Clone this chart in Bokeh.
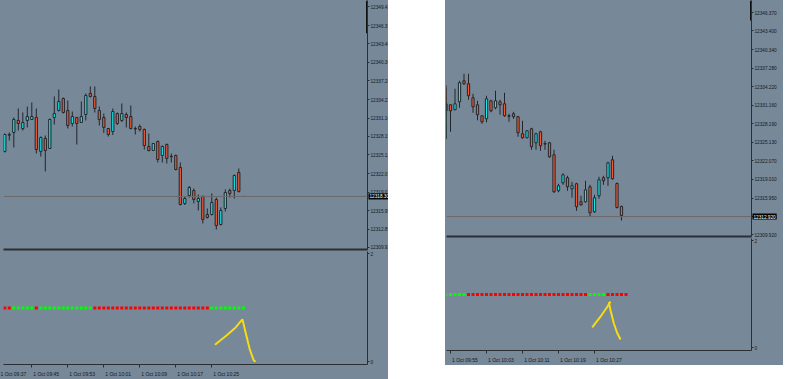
from bokeh.plotting import figure
from bokeh.models import (ColumnDataSource, FixedTicker, LinearAxis, Range1d,
                          Span, Label, Spacer, InlineStyleSheet)
from bokeh.layouts import row, column
from bokeh.embed import file_html
from bokeh.resources import INLINE

# ---------------- data: 1-minute bars, 1 Oct ----------------
first_bar_time = "09:39"
date_text = "1 Oct"

bar_open = [
    12325.69, 12328.35, 12328.81, 12330.78, 12329.46, 12330.78, 12330.94, 12331.27,
    12325.69, 12327.82, 12326.18, 12331.27, 12332.42, 12334.39, 12332.42, 12330.28,
    12331.27, 12330.45, 12331.76, 12335.21, 12334.72, 12332.42, 12331.27, 12329.46,
    12328.97, 12331.92, 12330.78, 12331.76, 12331.43, 12329.46, 12329.79, 12329.30,
    12326.51, 12325.85, 12327.33, 12325.03, 12326.83, 12324.90, 12325.03, 12323.06,
    12317.15, 12318.46, 12319.28, 12317.48, 12318.30, 12315.34, 12315.34, 12317.80,
    12313.70, 12316.33, 12319.28, 12319.28, 12322.24,
]
bar_high = [
    12328.64, 12328.81, 12331.27, 12332.75, 12332.09, 12333.07, 12333.73, 12332.75,
    12328.15, 12328.31, 12331.10, 12334.72, 12335.87, 12334.55, 12334.06, 12332.25,
    12331.35, 12333.90, 12335.21, 12336.36, 12336.36, 12333.07, 12331.92, 12329.55,
    12332.75, 12332.09, 12333.57, 12332.09, 12333.24, 12329.79, 12330.12, 12329.46,
    12328.64, 12327.08, 12327.49, 12326.67, 12327.00, 12325.36, 12325.19, 12323.88,
    12318.30, 12320.02, 12319.61, 12318.62, 12318.46, 12316.33, 12318.79, 12318.13,
    12316.49, 12319.45, 12319.61, 12321.91, 12322.89,
]
bar_low = [
    12325.52, 12327.49, 12326.34, 12329.13, 12329.13, 12329.63, 12330.86, 12325.36,
    12324.86, 12322.40, 12326.10, 12330.12, 12332.25, 12331.92, 12329.46, 12329.79,
    12326.83, 12330.37, 12330.78, 12334.55, 12332.09, 12329.95, 12328.72, 12328.15,
    12328.39, 12330.04, 12330.53, 12329.63, 12329.30, 12328.48, 12328.97, 12326.01,
    12325.69, 12325.77, 12323.88, 12323.88, 12323.71, 12323.88, 12322.57, 12316.82,
    12316.90, 12318.13, 12317.15, 12316.00, 12313.86, 12314.68, 12315.18, 12312.88,
    12313.53, 12315.83, 12318.13, 12317.97, 12318.95,
]
bar_close = [
    12328.48, 12328.48, 12330.94, 12330.28, 12330.45, 12331.43, 12331.43, 12326.01,
    12327.98, 12325.85, 12330.94, 12331.92, 12333.90, 12332.09, 12329.95, 12331.43,
    12330.28, 12331.43, 12334.88, 12334.72, 12332.75, 12330.94, 12329.63, 12328.48,
    12332.25, 12330.28, 12331.92, 12331.27, 12329.46, 12329.38, 12329.30, 12326.67,
    12325.85, 12327.00, 12324.37, 12326.51, 12324.54, 12324.82, 12322.73, 12316.98,
    12317.97, 12319.77, 12317.80, 12317.97, 12314.52, 12314.85, 12317.31, 12313.53,
    12316.00, 12318.95, 12318.79, 12321.74, 12319.12,
]

# live (forming) bar in the left snapshot
left_live_open, left_live_high, left_live_low, left_live_close = 12318.30, 12318.30, 12318.30, 12318.30
# bars formed later, seen in the right snapshot
right_new_open = [12318.34, 12314.56, 12312.92]
right_new_high = [12318.50, 12314.73, 12312.92]
right_new_low = [12314.24, 12312.27, 12312.92]
right_new_close = [12314.40, 12313.09, 12312.92]

left_bid = 12318.30
right_bid = 12312.92
scale_marker_from = 12345.10

price_ticks = [12309.92, 12312.89, 12315.95, 12319.01, 12322.07, 12325.13, 12328.19,
               12331.16, 12334.22, 12337.28, 12340.34, 12343.40, 12346.37, 12349.43]
price_labels = ["12309.920", "12312.890", "12315.950", "12319.010", "12322.070",
                "12325.130", "12328.190", "12331.160", "12334.220", "12337.280",
                "12340.340", "12343.400", "12346.370", "12349.430"]

signal_level = 1.0
signal_scale_ticks = [0.05, 1.96]
signal_scale_labels = ["0", "2"]

# indicator colour per bar (+1 green, -1 red)
left_trend = ([-1, -1] + [1] * 5 + [-1] + [1] * 12 + [-1] * 26 + [1] * 8)
right_trend = ([-1, -1] + [1] * 5 + [-1] + [1] * 7 + [1] * 5 + [-1] * 27 + [1] * 4 + [-1] * 5)

left_time_ticks = ["09:37", "09:45", "09:53", "10:01", "10:09", "10:17", "10:25"]
right_time_ticks = ["09:55", "10:03", "10:11", "10:19", "10:27"]

# hand-drawn yellow marks (bar index, indicator scale)
left_mark_x = [46.7, 49.4, 51.3, 52.8, 53.5, 54.4, 55.3, 55.7]
left_mark_y = [0.348, 0.522, 0.656, 0.80, 0.569, 0.278, 0.075, 0.047]
right_mark_up_x = [47.49, 49.33, 50.82, 51.56]
right_mark_up_y = [0.412, 0.603, 0.777, 0.875]
right_mark_dn_x = [51.18, 51.56, 52.29, 53.04, 53.78]
right_mark_dn_y = [0.864, 0.718, 0.487, 0.313, 0.197]

# ---------------- style ----------------
BG = "#778899"
BULL = "#17e8e8"
BEAR = "#ee5b36"
WICK = "#22262b"
AXIS = "#2b2e33"
TXT = "#16181b"
UP_DOT = "#00ff00"
DN_DOT = "#ff0000"
YELLOW = "#f6dc12"
BIDLINE = "#6e6a6c"
FONT = "Liberation Sans"
time_label_shift = 3.2


def idx_of(hhmm):
    h, m = map(int, hhmm.split(":"))
    h0, m0 = map(int, first_bar_time.split(":"))
    return (h * 60 + m) - (h0 * 60 + m0)


def style_axis(ax, ticks, labels, size="4.7px"):
    ax.ticker = FixedTicker(ticks=ticks, minor_ticks=[])
    ax.major_label_overrides = {t: s for t, s in zip(ticks, labels)}
    ax.major_tick_out = 2
    ax.major_tick_in = 0
    ax.minor_tick_out = 0
    ax.minor_tick_in = 0
    ax.major_label_standoff = 1
    ax.axis_line_color = AXIS
    ax.major_tick_line_color = AXIS
    ax.major_label_text_font = FONT
    ax.major_label_text_font_size = size
    ax.major_label_text_color = TXT


def draw_candles(p, o, h, l, c):
    x = list(range(len(o)))
    src = ColumnDataSource(dict(
        x=x, h=h, l=l,
        top=[max(a, b) for a, b in zip(o, c)],
        bottom=[min(a, b) for a, b in zip(o, c)],
        color=[BULL if b >= a else BEAR for a, b in zip(o, c)],
    ))
    p.segment(x0="x", y0="h", x1="x", y1="l", source=src, line_color=WICK, line_width=1)
    p.vbar(x="x", width=0.5, top="top", bottom="bottom", fill_color="color",
           line_color=WICK, line_width=1, source=src)


def make_main(w, h, xr, yr, bl, br, o, hi, lo_, c, bid):
    p = figure(width=w, height=h, x_range=xr, y_range=yr,
               output_backend="svg", toolbar_location=None,
               x_axis_location=None, y_axis_location="right",
               background_fill_color=BG, border_fill_color=BG,
               min_border_left=bl, min_border_right=br,
               min_border_top=0, min_border_bottom=2, outline_line_color=None)
    p.grid.visible = False
    style_axis(p.yaxis[0], price_ticks, price_labels)
    # window separator drawn as the bottom edge of the price window
    sep = LinearAxis(ticker=FixedTicker(ticks=[], minor_ticks=[]),
                     axis_line_color=AXIS, axis_line_width=2,
                     major_tick_out=0, major_tick_in=0, minor_tick_out=0, minor_tick_in=0,
                     major_label_standoff=0)
    p.add_layout(sep, "below")
    p.add_layout(Span(location=bid, dimension="width", line_color=BIDLINE, line_width=1))
    draw_candles(p, o, hi, lo_, c)
    p.segment(x0=[xr.end], y0=[scale_marker_from], x1=[xr.end], y1=[yr.end],
              line_color="#111111", line_width=3)
    p.add_layout(Label(x=xr.end, y=bid, x_offset=1, text=f"{bid:.3f}",
                       text_font=FONT, text_font_size="4.7px", text_color="white",
                       text_baseline="middle", text_align="left",
                       background_fill_color="black", padding=1), "right")
    return p


def make_sub(w, h, xr, bl, br, bb, trend, time_ticks, marks):
    p = figure(width=w, height=h, x_range=xr, y_range=Range1d(0, 2),
               output_backend="svg", toolbar_location=None,
               y_axis_location="right",
               background_fill_color=BG, border_fill_color=BG,
               min_border_left=bl, min_border_right=br,
               min_border_top=0, min_border_bottom=bb, outline_line_color=None)
    p.grid.visible = False
    style_axis(p.yaxis[0], signal_scale_ticks, signal_scale_labels)

    tick_idx = [idx_of(t) for t in time_ticks]
    lab_ticks = [t + time_label_shift for t in tick_idx]
    xa = p.xaxis[0]
    xa.ticker = FixedTicker(ticks=lab_ticks, minor_ticks=tick_idx)
    xa.major_label_overrides = {t: f"{date_text} {s}" for t, s in zip(lab_ticks, time_ticks)}
    xa.major_tick_out = 0
    xa.major_tick_in = 0
    xa.minor_tick_out = 3
    xa.minor_tick_in = 0
    xa.major_label_standoff = 3
    xa.axis_line_color = AXIS
    xa.minor_tick_line_color = AXIS
    xa.major_label_text_font = FONT
    xa.major_label_text_font_size = "5px"
    xa.major_label_text_color = TXT

    src = ColumnDataSource(dict(x=list(range(len(trend))),
                                y=[signal_level] * len(trend),
                                color=[UP_DOT if t > 0 else DN_DOT for t in trend]))
    p.scatter(x="x", y="y", marker="square", size=3, fill_color="color",
              line_color=None, source=src)
    xs = [m[0] for m in marks]
    ys = [m[1] for m in marks]
    p.multi_line(xs=xs, ys=ys, line_color=YELLOW, line_width=2)
    return p


def white_cover(width, overlap):
    # white page area between the two terminal windows; it hides the part of a
    # window that lies past the screenshot's edge
    return Spacer(width=width, height=379, stylesheets=[InlineStyleSheet(
        css=f":host {{ margin-left: -{overlap}px !important; background-color: white !important; "
            f"position: relative; z-index: 5; }}")])


# left snapshot: window is wider than the screenshot, its price scale is cut at x=388
lo = bar_open + [left_live_open]
lh = bar_high + [left_live_high]
ll = bar_low + [left_live_low]
lc = bar_close + [left_live_close]
left_xr = Range1d(-0.289, 80.6)
left_main = make_main(421, 251, left_xr, Range1d(12309.59, 12350.48), 3, 54,
                      lo, lh, ll, lc, left_bid)
left_sub = make_sub(421, 128, left_xr, 3, 54, 13, left_trend, left_time_ticks,
                    [(left_mark_x, left_mark_y)])

# right snapshot
ro = bar_open + right_new_open
rh = bar_high + right_new_high
rl = bar_low + right_new_low
rc = bar_close + right_new_close
right_xr = Range1d(15.111, 82.889)
right_main = make_main(361, 238, right_xr, Range1d(12309.64, 12348.39), 1, 55,
                       ro, rh, rl, rc, right_bid)
right_sub = make_sub(361, 127, right_xr, 1, 55, 12, right_trend, right_time_ticks,
                     [(right_mark_up_x, right_mark_up_y), (right_mark_dn_x, right_mark_dn_y)])

left_col = column(left_main, left_sub, styles={"background-color": BG})
right_col = column(right_main, right_sub, styles={"background-color": BG})

layout = row(left_col,
             white_cover(57, 33),
             right_col,
             white_cover(40, 23))

open("out.html", "w").write(file_html(layout, INLINE))
